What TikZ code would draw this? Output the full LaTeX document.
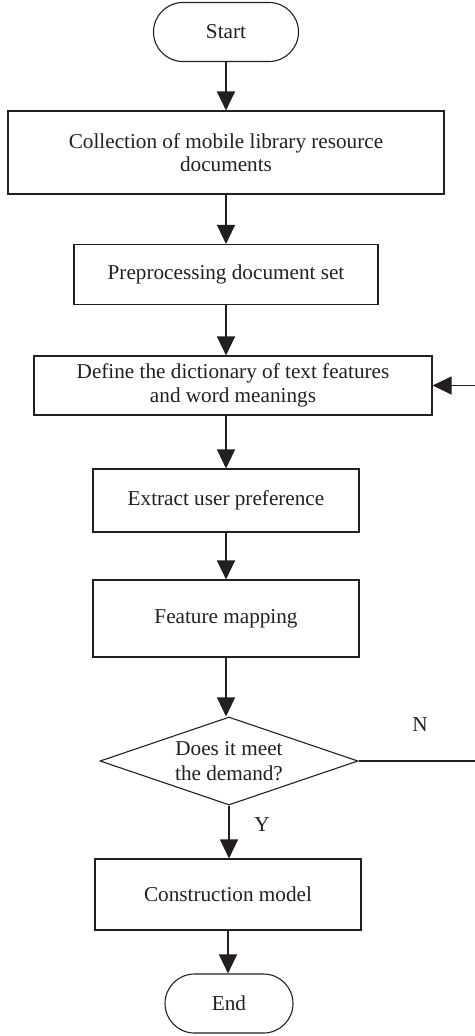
\documentclass[tikz,border=0pt]{standalone}
\usepackage{fontspec}
\setmainfont{Liberation Serif}
\usetikzlibrary{arrows.meta,shapes.geometric,shapes.misc}
\definecolor{ink}{HTML}{231F20}
\begin{document}
\begin{tikzpicture}[x=1pt,y=1pt,
  every node/.style={font=\fontsize{21.2}{23.5}\selectfont, text=ink},
  box/.style={draw=ink, line width=1.1pt, rectangle, align=center, inner sep=0pt},
  term/.style={draw=ink, line width=1.1pt, rounded rectangle, inner sep=0pt},
  decision/.style={draw=ink, line width=1.1pt, diamond, inner sep=0pt},
  flow/.style={draw=ink, line width=1.1pt, -{Triangle[width=18pt,length=19pt]}},
  link/.style={draw=ink, line width=1.1pt}]
\useasboundingbox (0,0) rectangle (474,-1036);

% process chain
\node[term, minimum width=145, minimum height=59] (start) at (226,-32) {Start};
\node[box, minimum width=436, minimum height=83] (collect) at (226,-152.5)
  {Collection of mobile library resource\\documents};
\node[box, minimum width=304, minimum height=60] (prep) at (226,-274.5)
  {Preprocessing document set};
\node[box, minimum width=398, minimum height=59] (dict) at (233,-385.5)
  {Define the dictionary of text features\\and word meanings};
\node[box, minimum width=266, minimum height=63] (pref) at (226,-500.5)
  {Extract user preference};
\node[box, minimum width=266, minimum height=77] (map) at (226,-618.5)
  {Feature mapping};
\node[decision, minimum width=258, minimum height=88,
  label={[align=center, font=\fontsize{21.2}{25}\selectfont]center:Does it meet\\the demand?}]
  (check) at (229,-761) {};
\node[box, minimum width=266, minimum height=71] (model) at (228,-894.5)
  {Construction model};
\node[term, minimum width=128, minimum height=59] (stop) at (229,-1003.5) {End};

% branch labels
\node (nlab) at (420,-725) {N};
\node (ylab) at (262,-825) {Y};

% connectors
\draw[flow] (start.south) -- (start.south |- collect.north);
\draw[flow] (collect.south) -- (collect.south |- prep.north);
\draw[flow] (prep.south) -- (prep.south |- dict.north);
\draw[flow] (prep.south |- dict.south) -- (prep.south |- pref.north);
\draw[flow] (pref.south) -- (pref.south |- map.north);
\draw[flow] (map.south) -- (map.south |- check.north);
\draw[flow] (check.south) -- (check.south |- model.north);
\draw[flow] (model.south) -- (model.south |- stop.north);

% feedback loop back to the dictionary step
\coordinate (loop) at (478,0);
\draw[flow] (check.east) -- (loop |- check.east) -- (loop |- dict.east) -- (dict.east);
\end{tikzpicture}
\end{document}
